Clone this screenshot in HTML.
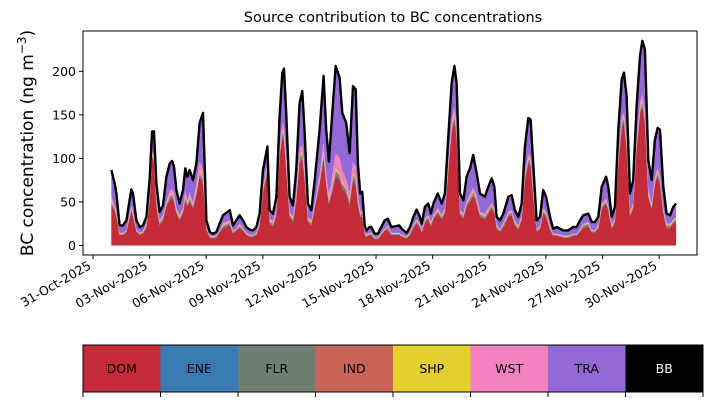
<!DOCTYPE html>
<html><head><meta charset="utf-8">
<style>
body{margin:0;background:#fff;}
svg{display:block;font-family:"DejaVu Sans","Liberation Sans",sans-serif;}
</style></head>
<body>
<svg id="chart" width="713" height="402" viewBox="0 0 713 402" xmlns="http://www.w3.org/2000/svg">
<text x="393" y="22" font-size="14.5" text-anchor="middle">Source contribution to BC concentrations</text>
<text transform="translate(33,143) rotate(-90)" font-size="17" text-anchor="middle">BC concentration (ng m<tspan font-size="12" dy="-7">−3</tspan><tspan dy="7">)</tspan></text>
<g id="areas"></g>
<g id="axes"></g>
<g id="cbar"></g>
</svg>
<script>
const days = [0.97,1.15,1.24,1.41,1.59,1.77,1.94,2.03,2.12,2.30, 2.48,2.65,2.83,3.00,3.13,3.23,3.36,3.53,3.71,3.89, 4.07,4.19,4.29,4.42,4.59,4.77,4.89,5.00,5.12,5.30, 5.48,5.65,5.83,6.01,6.19,6.36,6.54,6.71,6.89,7.25, 7.42,7.60,7.77,7.95,8.13,8.30,8.48,8.66,8.83,9.01, 9.24,9.36,9.54,9.72,9.89,10.03,10.12,10.24,10.42,10.60, 10.77,10.95,11.09,11.21,11.39,11.57,11.75,12.01,12.22,12.36, 12.50,12.72,12.86,13.07,13.21,13.42,13.60,13.78,13.92,14.04, 14.16,14.27,14.40,14.49,14.66,14.75,14.93,15.10,15.28,15.46, 15.63,15.81,16.23,16.36,16.62,16.80,16.98,17.15,17.33,17.42, 17.59,17.77,17.90,18.04,18.27,18.48,18.65,18.83,19.01,19.15, 19.27,19.45,19.63,19.80,19.98,20.15,20.30,20.51,20.77,20.95, 21.13,21.27,21.39,21.57,21.75,22.01,22.19,22.36,22.54,22.72, 22.89,23.07,23.19,23.33,23.51,23.69,23.86,24.01,24.22,24.39, 24.57,24.75,24.92,25.19,25.45,25.63,25.81,25.98,26.25,26.43, 26.60,26.78,26.96,27.19,27.31,27.49,27.66,27.84,28.02,28.14, 28.28,28.46,28.63,28.81,28.99,29.11,29.25,29.43,29.61,29.78, 29.92,30.05,30.22,30.40,30.58,30.75,30.90];
const total = [86.7,71.3,59.7,23.1,23.1,28.9,52,64.4,59.7,28.9, 21.2,23.1,32.8,75.1,131,131,71.3,38.5,46.2,79, 94.4,97.1,90.6,63.6,48.2,63.6,88.6,79,86.7,75.1, 94.4,140.7,152.2,28.9,15.4,13.5,15.4,25,34.7,40.5, 23.1,28.9,34.7,28.9,21.2,18.1,17.3,21.2,36.6,86.7, 113.7,40.5,36.6,55.9,148.4,198.5,203.1,152.2,55.9,46.2, 86.7,163.8,177.3,133,48.2,40.5,75.1,133,194.6,133, 96.3,163.8,206.2,192.7,152.2,140.7,106,183,179.2,94.4, 59.7,61.6,23.1,17.3,21.2,21.2,13.5,13.5,21.2,28.9, 30.8,21.2,23.1,19.3,14.3,21.2,32.8,41.2,32.8,25, 44.3,48.2,36.6,48.2,59.7,48.2,59.7,125.2,186.9,206.2, 186.9,59.7,52,79,88.6,104,86.7,59.7,55.9,67.4, 77.1,67.4,32.8,28.9,36.6,55.9,57.8,40.5,32.8,48.2, 113.7,146.4,144.5,94.4,28.9,32.8,63.6,55.9,32.8,19.3, 21.2,19.3,17.3,17.3,21.2,21.2,28.9,34.7,36.6,27, 27,32.8,67.4,79,67.4,32.8,44.3,133,190.8,198.5, 171.5,59.7,75.1,159.9,217.7,235,225.4,98.3,75.1,121.4, 134.9,133,67.4,36.6,34.7,44.3,48.2];
const dom = [46,40,33,12,12,15,31,40,33,16, 12,14,20,50,100,95,45,23,29,45, 52,54,50,37,29,37,52,45,50,43, 58,80,70,18,9,8,9,15,20,23, 14,17,20,17,12,10,10,12,22,60, 85,25,22,35,100,125,120,85,33,27, 50,95,100,78,27,23,42,70,100,70, 47,65,80,75,65,60,47,75,70,47, 33,33,12,10,12,12,7,7,12,17, 18,12,12,10,8,12,20,25,20,15, 26,30,22,30,37,30,37,85,130,145, 125,35,31,45,50,57,50,33,30,37, 43,37,19,16,21,33,35,23,18,29, 75,95,92,55,16,18,37,33,18,11, 11,10,9,9,11,11,16,20,22,15, 15,19,42,48,40,19,26,92,135,140, 110,33,43,110,150,160,140,55,42,70, 80,70,37,20,20,25,27];
const ene = [1.5,1,1,0.5,0.5,0.5,1,1,1,0.5, 0.5,0.5,1,1,1.5,1.5,1,1,1,1, 1.5,1.5,1.5,1,1,1,1.5,1,1.5,1, 1.5,1.5,2,0.5,0.5,0.5,0.5,0.5,1,1, 0.5,0.5,1,0.5,0.5,0.5,0.5,0.5,1,1.5, 1.5,1,1,1,1.5,2,2,2,1,1, 1.5,2,2,1.5,1,1,1,1.5,2,1.5, 1.5,2,2,2,2,1.5,1.5,2,2,1.5, 1,1,0.5,0.5,0.5,0.5,0.5,0.5,0.5,0.5, 1,0.5,0.5,0.5,0.5,0.5,1,1,1,0.5, 1,1,1,1,1,1,1,1.5,2,2, 2,1,1,1,1.5,1.5,1.5,1,1,1, 1,1,1,0.5,1,1,1,1,1,1, 1.5,1.5,1.5,1.5,0.5,1,1,1,1,0.5, 0.5,0.5,0.5,0.5,0.5,0.5,0.5,1,1,0.5, 0.5,1,1,1,1,1,1,1.5,2,2, 2,1,1,2,2,2,2,1.5,1,1.5, 1.5,1.5,1,1,1,1,1];
const flr = [1.5,1,1,0.5,0.5,0.5,1,1,1,0.5, 0.5,0.5,1,1,1.5,1.5,1,1,1,1, 1.5,1.5,1.5,1,1,1,1.5,1,1.5,1, 1.5,1.5,2,0.5,0.5,0.5,0.5,0.5,1,1, 0.5,0.5,1,0.5,0.5,0.5,0.5,0.5,1,1.5, 1.5,1,1,1,1.5,2,2,2,1,1, 1.5,2,2,1.5,1,1,1,1.5,2,1.5, 1.5,2,2,2,2,1.5,1.5,2,2,1.5, 1,1,0.5,0.5,0.5,0.5,0.5,0.5,0.5,0.5, 1,0.5,0.5,0.5,0.5,0.5,1,1,1,0.5, 1,1,1,1,1,1,1,1.5,2,2, 2,1,1,1,1.5,1.5,1.5,1,1,1, 1,1,1,0.5,1,1,1,1,1,1, 1.5,1.5,1.5,1.5,0.5,1,1,1,1,0.5, 0.5,0.5,0.5,0.5,0.5,0.5,0.5,1,1,0.5, 0.5,1,1,1,1,1,1,1.5,2,2, 2,1,1,2,2,2,2,1.5,1,1.5, 1.5,1.5,1,1,1,1,1];
const ind = [1.5,1,1,0.5,0.5,0.5,1,1,1,0.5, 0.5,0.5,1,1,1.5,1.5,1,1,1,1, 1.5,1.5,1.5,1,1,1,1.5,1,1.5,1, 1.5,1.5,2,0.5,0.5,0.5,0.5,0.5,1,1, 0.5,0.5,1,0.5,0.5,0.5,0.5,0.5,1,1.5, 1.5,1,1,1,1.5,2,2,2,1,1, 1.5,2,2,1.5,1,1,1,1.5,2,1.5, 1.5,2,2,2,2,1.5,1.5,2,2,1.5, 1,1,0.5,0.5,0.5,0.5,0.5,0.5,0.5,0.5, 1,0.5,0.5,0.5,0.5,0.5,1,1,1,0.5, 1,1,1,1,1,1,1,1.5,2,2, 2,1,1,1,1.5,1.5,1.5,1,1,1, 1,1,1,0.5,1,1,1,1,1,1, 1.5,1.5,1.5,1.5,0.5,1,1,1,1,0.5, 0.5,0.5,0.5,0.5,0.5,0.5,0.5,1,1,0.5, 0.5,1,1,1,1,1,1,1.5,2,2, 2,1,1,2,2,2,2,1.5,1,1.5, 1.5,1.5,1,1,1,1,1];
const shp = [1.5,1,1,0.5,0.5,0.5,1,1,1,0.5, 0.5,0.5,1,1,1.5,1.5,1,1,1,1, 1.5,1.5,1.5,1,1,1,1.5,1,1.5,1, 1.5,1.5,2,0.5,0.5,0.5,0.5,0.5,1,1, 0.5,0.5,1,0.5,0.5,0.5,0.5,0.5,1,1.5, 1.5,1,1,1,1.5,2,2,2,1,1, 1.5,2,2,1.5,1,1,1,1.5,2,1.5, 1.5,2,2,2,2,1.5,1.5,2,2,1.5, 1,1,0.5,0.5,0.5,0.5,0.5,0.5,0.5,0.5, 1,0.5,0.5,0.5,0.5,0.5,1,1,1,0.5, 1,1,1,1,1,1,1,1.5,2,2, 2,1,1,1,1.5,1.5,1.5,1,1,1, 1,1,1,0.5,1,1,1,1,1,1, 1.5,1.5,1.5,1.5,0.5,1,1,1,1,0.5, 0.5,0.5,0.5,0.5,0.5,0.5,0.5,1,1,0.5, 0.5,1,1,1,1,1,1,1.5,2,2, 2,1,1,2,2,2,2,1.5,1,1.5, 1.5,1.5,1,1,1,1,1];
const wst = [4,2,2,0.5,0.5,0.5,2,2,2,0.5, 0.5,0.5,2,2,3,3,2,2,2,2, 5,5,5,2,2,2,5,2,5,2, 8,10,10,0.5,0.5,0.5,0.5,0.5,2,2, 0.5,0.5,2,0.5,0.5,0.5,0.5,0.5,2,3, 3,2,2,2,6,8,8,8,2,2, 5,8,8,6,2,2,2,6,10,6, 6,13,18,18,13,10,8,13,13,6, 3,3,0.5,0.5,0.5,0.5,0.5,0.5,0.5,0.5, 1,0.5,0.5,0.5,0.5,0.5,1,1,1,0.5, 1,1,1,1,2,1,2,3,6,6, 6,2,2,2,3,3,3,2,2,2, 2,2,1,0.5,1,2,2,1,1,1, 3,4,4,3,0.5,1,2,2,1,0.5, 0.5,0.5,0.5,0.5,0.5,0.5,0.5,1,1,0.5, 0.5,1,2,2,2,1,1,4,5,5, 4,2,2,4,6,6,6,3,2,3, 3,3,2,1,1,1,1];
const yTicks = [0,50,100,150,200];
const xTickDays = [0,3,6,9,12,15,18,21,24,27,30];
const xTickLabels = ["31-Oct-2025","03-Nov-2025","06-Nov-2025","09-Nov-2025","12-Nov-2025","15-Nov-2025","18-Nov-2025","21-Nov-2025","24-Nov-2025","27-Nov-2025","30-Nov-2025"];
const sourceNames = ["DOM","ENE","FLR","IND","SHP","WST","TRA","BB"];
const sourceColors = ["#c52a38","#3a7ab3","#6d7f71","#c96557","#e5cf2f","#f382bf","#9468d6","#000000"];

const NS = "http://www.w3.org/2000/svg";
const L = 83, R = 697, T = 31, B = 255;
const xS = d => 93 + d * 18.87;
const yS = v => 245.5 - v * 0.871;
function mk(tag, attrs, parent) {
  const e = document.createElementNS(NS, tag);
  for (const k in attrs) e.setAttribute(k, attrs[k]);
  parent.appendChild(e);
  return e;
}
const n = Math.min(days.length, total.length, dom.length, ene.length, flr.length, ind.length, shp.length, wst.length);
const tra = [];
for (let i = 0; i < n; i++) tra.push(Math.max(0, total[i] - dom[i] - ene[i] - flr[i] - ind[i] - shp[i] - wst[i]));
const layers = [dom, ene, flr, ind, shp, wst, tra];
const layerNames = ["area-dom","area-ene","area-flr","area-ind","area-shp","area-wst","area-tra"];
const areas = document.getElementById("areas");
const base = new Array(n).fill(0);
layers.forEach((arr, li) => {
  const top = base.map((b, i) => b + arr[i]);
  let d = "";
  for (let i = 0; i < n; i++) d += (i ? "L" : "M") + xS(days[i]).toFixed(1) + "," + yS(top[i]).toFixed(1);
  for (let i = n - 1; i >= 0; i--) d += "L" + xS(days[i]).toFixed(1) + "," + yS(base[i]).toFixed(1);
  const p = mk("path", {d: d + "Z", fill: sourceColors[li]}, areas);
  
  
  for (let i = 0; i < n; i++) base[i] = top[i];
});
let ld = "";
for (let i = 0; i < n; i++) ld += (i ? "L" : "M") + xS(days[i]).toFixed(1) + "," + yS(total[i]).toFixed(1);
const line = mk("path", {d: ld, fill: "none", stroke: "#000", "stroke-width": 2.4, "stroke-linejoin": "round"}, areas);



const axes = document.getElementById("axes");
const frame = mk("rect", {x: L, y: T, width: R - L, height: B - T, fill: "none", stroke: "#000", "stroke-width": 1}, axes);


yTicks.forEach(v => {
  const y = yS(v);
  const t = mk("line", {x1: L - 4, x2: L, y1: y, y2: y, stroke: "#000"}, axes);
  
  
  const lb = mk("text", {x: L - 7, y: y + 4.5, "font-size": 12.5, "text-anchor": "end"}, axes);
  lb.textContent = v;
  
  
});
xTickDays.forEach((d, i) => {
  const x = xS(d);
  const t = mk("line", {x1: x, x2: x, y1: B, y2: B + 4, stroke: "#000"}, axes);
  
  
  const lb = mk("text", {transform: "translate(" + (x - 1) + "," + (B + 13) + ") rotate(-30)", "font-size": 12.5, "text-anchor": "end"}, axes);
  lb.textContent = xTickLabels[i];
  
  
});

const cbar = document.getElementById("cbar");
const cL = 83, cR = 703, cT = 345, cB = 392, w = (cR - cL) / sourceNames.length;
sourceNames.forEach((nm, i) => {
  const r = mk("rect", {x: cL + i * w, y: cT, width: w + 0.5, height: cB - cT, fill: sourceColors[i]}, cbar);
  
  
  const t = mk("text", {x: cL + (i + 0.5) * w, y: cT + 28, "font-size": 12.5, "text-anchor": "middle", fill: nm === "BB" ? "#fff" : "#000"}, cbar);
  t.textContent = nm;
  
  
});
for (let i = 0; i <= sourceNames.length; i++) {
  const tk = mk("line", {x1: cL + i * w, x2: cL + i * w, y1: cB, y2: cB + 5, stroke: "#000"}, cbar);
  
  
}
const cf = mk("rect", {x: cL, y: cT, width: cR - cL, height: cB - cT, fill: "none", stroke: "#000", "stroke-width": 1}, cbar);


</script>
</body></html>
